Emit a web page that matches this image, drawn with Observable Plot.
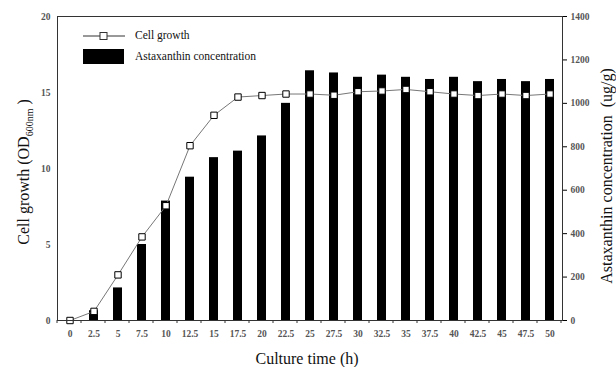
<!DOCTYPE html>
<html>
<head>
<meta charset="utf-8">
<script src="https://cdn.jsdelivr.net/npm/d3@7"></script>
<script src="https://cdn.jsdelivr.net/npm/@observablehq/plot@0.6"></script>
<style>
  html, body { margin: 0; padding: 0; background: #fff; }
  #chart { width: 616px; height: 367px; }
</style>
</head>
<body>
<div id="chart"></div>
<script>
// Culture time categories (h)
const times = ["0","2.5","5","7.5","10","12.5","15","17.5","20","22.5","25","27.5","30","32.5","35","37.5","40","42.5","45","47.5","50"];
// Cell growth (OD600nm), left axis
const cellGrowth = [0, 0.6, 3.0, 5.5, 7.55, 11.5, 13.5, 14.7, 14.8, 14.9, 14.9, 14.82, 15.05, 15.1, 15.2, 15.05, 14.9, 14.8, 14.9, 14.8, 14.9];
// Astaxanthin concentration (ug/g), right axis
const astaxanthin = [0, 45, 150, 350, 550, 660, 750, 780, 850, 1000, 1150, 1140, 1120, 1130, 1120, 1110, 1120, 1100, 1110, 1100, 1110];
// Axis ticks
const leftTicks = [0, 5, 10, 15, 20];
const rightTicks = [0, 200, 400, 600, 800, 1000, 1200, 1400];
const rightMax = 1400, leftMax = 20;
const ratio = rightMax / leftMax;

const data = times.map((t, i) => ({t, od: cellGrowth[i], ast: astaxanthin[i]}));

const serif = "'Liberation Serif', 'Times New Roman', serif";
const tickColor = "#555";

const chart = Plot.plot({
  width: 616,
  height: 367,
  marginTop: 16,
  marginBottom: 47,
  marginLeft: 57,
  marginRight: 54,
  style: {fontFamily: serif, background: "#fff"},
  x: {type: "band", domain: times, paddingInner: 0.625, paddingOuter: 0.3125},
  y: {domain: [0, leftMax]},
  marks: [
    Plot.barY(data, {x: "t", y: d => d.ast / ratio, fill: "black"}),
    Plot.line(data, {x: "t", y: "od", stroke: "#777", strokeWidth: 1}),
    Plot.dot(data, {x: "t", y: "od", symbol: "square", r: 3.6, fill: "white", stroke: "black", strokeWidth: 1}),
    Plot.axisY(leftTicks, {anchor: "left", tickSize: 4, tickPadding: 3, label: null,
      fontSize: 9.5, fontWeight: "bold", fill: tickColor, stroke: null}),
    Plot.axisY(rightTicks.map(v => v / ratio), {anchor: "right", tickSize: 4, tickPadding: 4, label: null,
      tickFormat: v => String(Math.round(v * ratio)), fontSize: 9.5, fontWeight: "bold", fill: tickColor}),
    Plot.axisX({anchor: "bottom", tickSize: 0, tickPadding: 10, label: null,
      fontSize: 9.5, fontWeight: "bold", fill: tickColor}),
    Plot.frame({stroke: "#333", strokeWidth: 1})
  ]
});

document.getElementById("chart").appendChild(chart);

// Post-process: boundary ticks, axis titles, legend
const svg = d3.select(chart);
const xs = chart.scale("x");
const step = xs.step;
const x0 = 57, yBottom = 367 - 47;
const g = svg.append("g");
for (let i = 0; i <= times.length; i++) {
  const xv = x0 + i * step;
  g.append("line").attr("x1", xv).attr("x2", xv).attr("y1", yBottom).attr("y2", yBottom + 3)
    .attr("stroke", "#333").attr("stroke-width", 1);
}

function txt(sel, size) {
  return sel.style("font-family", serif).style("font-size", size + "px").style("fill", "#111");
}

// Left axis title
const lt = txt(svg.append("text"), 16)
  .attr("transform", "translate(29,172) rotate(-90)")
  .attr("text-anchor", "middle");
lt.append("tspan").text("Cell growth (OD");
lt.append("tspan").text("600nm").style("font-size", "10px").attr("dy", 4);
lt.append("tspan").text(" )").attr("dy", -4);

// Right axis title
txt(svg.append("text"), 16)
  .attr("transform", "translate(612,176) rotate(-90)")
  .attr("text-anchor", "middle")
  .text("Astaxanthin concentration  (ug/g)");

// Bottom axis title
txt(svg.append("text"), 16)
  .attr("x", 307).attr("y", 364)
  .attr("text-anchor", "middle")
  .text("Culture time (h)");

// Legend
const lg = svg.append("g");
lg.append("line").attr("x1", 83).attr("x2", 125).attr("y1", 36).attr("y2", 36).attr("stroke", "#333").attr("stroke-width", 1);
lg.append("rect").attr("x", 100).attr("y", 32.5).attr("width", 7).attr("height", 7).attr("fill", "white").attr("stroke", "#333");
txt(lg.append("text"), 11.5).attr("x", 135).attr("y", 39).attr("text-anchor", "start").text("Cell growth");
lg.append("rect").attr("x", 83).attr("y", 49).attr("width", 41).attr("height", 15).attr("fill", "black");
txt(lg.append("text"), 11.5).attr("x", 135).attr("y", 60).attr("text-anchor", "start").text("Astaxanthin concentration");
</script>
</body>
</html>
